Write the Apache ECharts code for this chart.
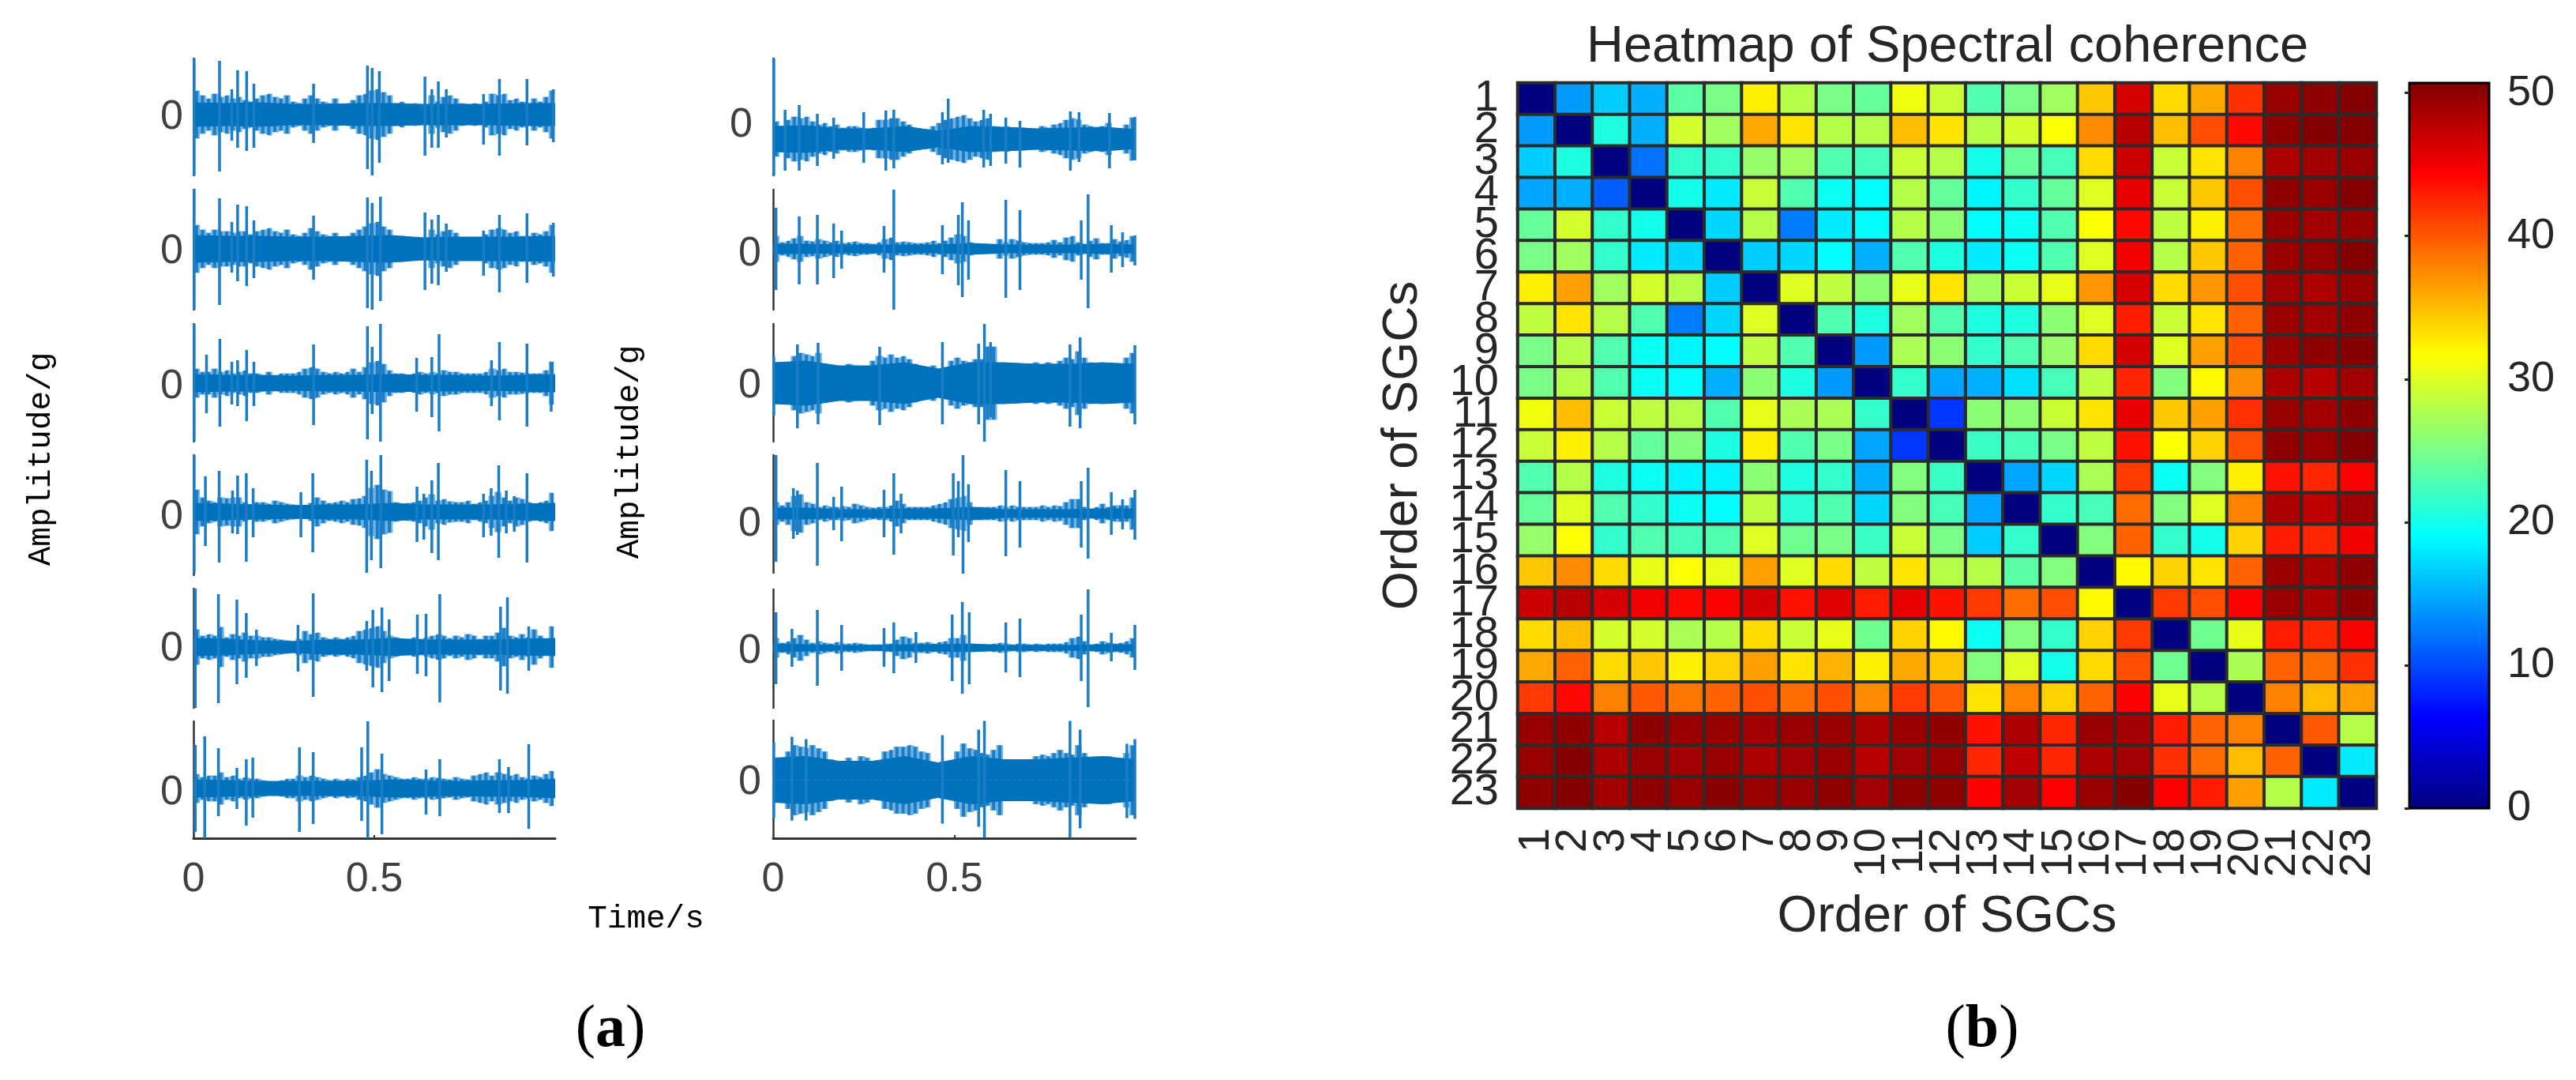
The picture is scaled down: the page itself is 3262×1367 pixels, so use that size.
<!DOCTYPE html>
<html>
<head>
<meta charset="utf-8">
<style>html,body{margin:0;padding:0;background:#fff}#c{width:3262px;height:1367px}</style>
<script src="https://cdn.jsdelivr.net/npm/echarts@6/dist/echarts.min.js"></script>
</head>
<body>
<div id="c"></div>
<script>
// ---------- heatmap data ----------
const sgcOrder = ['1','2','3','4','5','6','7','8','9','10','11','12','13','14','15','16','17','18','19','20','21','22','23'];
const coherence = [
[0,14,16.5,15,23.5,25,32.5,28,25,24,31,29,23,25,27,34.5,46.5,33.5,36,42,49.5,50,50.5],
[14,0,20.5,15,29.5,27,36,33,28,28,35,33,28,29.5,31.5,37.5,48,35,40.5,44,50,50.5,50.5],
[16.5,20.5,0,12,21.5,21.5,26.5,27,23,22.5,29,28,20,24,22.5,33.5,47,29,33,38,48.5,49,49.5],
[14.5,15,11,0,20,18,29,23,19.5,19,28,24,18.5,21.5,24,30,45.5,29,34.5,40.5,50,49.5,50.5],
[24,29.5,21.5,20,0,17,28,12.5,18,19,28,26,19,19.5,23,31.5,44,28.5,32.5,39,49.5,49,49.5],
[25,27,21.5,18,17,0,16.5,17,19,15,23,20.5,18,19.5,23,30,45,28,34.5,39.5,49.5,49.5,50.5],
[32.5,36.5,27,29.5,28,16.5,0,30,28.5,26,30.5,33,27,29,30.5,37,46.5,33.5,37,40.5,49,48.5,49.5],
[28.5,33,28,23,12.5,17,30,0,23,20.5,27,23,20.5,20.5,26,30,43,29,33,39.5,49.5,49,50],
[25,28,23,19.5,18.5,19,28.5,23,0,14,27.5,26,21.5,23,26.5,33.5,46.5,30,36.5,40.5,49.5,50,50.5],
[25,28,23,19.5,19,15,26,20.5,14,0,21.5,14.5,15,17.5,22.5,28.5,42.5,25.5,32,37.5,48.5,48,49],
[31,35,29,28.5,28,23,30.5,27.5,27.5,21.5,0,9,26,26,29,33,45.5,34.5,36.5,42,49.5,49,50],
[29,32.5,28,24,25.5,20.5,32.5,23,25,14.5,9,0,22,22.5,25,28.5,43.5,31.5,34,40.5,50,49.5,50.5],
[23,28,20.5,19.5,18.5,18.5,26,20.5,21.5,15,25.5,22,0,14.5,17,27.5,41.5,19.5,25.5,32.5,43.5,42.5,44.5],
[24,30,23,21.5,19.5,19,28.5,21,23,17,25.5,22.5,14.5,0,21.5,22.5,39,25.5,30,38,48.5,47.5,49],
[26.5,31.5,21.5,23,22.5,23,30,24.5,25,22,29,25,16.5,21.5,0,25.5,39.5,21.5,20,34,43,42.5,45],
[34.5,37.5,33.5,30.5,31.5,30.5,36.5,30,33.5,28.5,33,28,28,23.5,25.5,0,32,34,33,39.5,49.5,48.5,50],
[47,48,46.5,45,44,44.5,46.5,43.5,46,43,45.5,43.5,41.5,39,40.5,32,0,41.5,40.5,44.5,49.5,48.5,50],
[33.5,35,29.5,29.5,27.5,28,33.5,29,30.5,24.5,34,32,19.5,25.5,21.5,34,41.5,0,24.5,30.5,43,42.5,44.5],
[36,39.5,33.5,34.5,32.5,34,36.5,33,35.5,32.5,36,34.5,25.5,30,20,33.5,40.5,24.5,0,27.5,39.5,39,42],
[41.5,44,38,40,38.5,39.5,40.5,39,40.5,37.5,41.5,40,33,38,34,39.5,44.5,30.5,28,0,38,35,36.5],
[49.5,50,48,50,49.5,49.5,49,49.5,49.5,48.5,49.5,50,43.5,48.5,42.5,49.5,49,43,39.5,38,0,40,28],
[49.5,50.5,48.5,49.5,49,49.5,48.5,49,49.5,48,49,49.5,42.5,47.5,42.5,48.5,49,42,39,35,39.5,0,18],
[50,50.5,49,50,49.5,50.3,49.5,49.5,50,49,50,50,44.5,49,44.5,49.5,50.5,44.5,43,36.5,28,18,0]
];
const colorbarTicks = [0,10,20,30,40,50];
const jet = ['#000080','#0000ff','#0080ff','#00ffff','#80ff80','#ffff00','#ff8000','#ff0000','#800000'];

// ---------- waveform data (envelope heights, slow band, and [t, up, down] spikes) ----------
const envL1=[30,24,20,26,22,24,20,22,18,16,20,24,26,22,20,24,16,14,20,24,20,16,14,20,12,14,18,24,26,30,32,28,24,14,16,12,14,12,12,24,16,22,24,20,14,12,14,12,16,26,24,26,18,20,16,14,20,16,22,30];
const envL2=[30,24,20,24,22,22,20,22,22,18,22,24,26,22,20,24,18,16,20,26,22,18,16,20,14,16,20,24,28,32,34,28,24,14,16,14,14,14,14,24,18,22,24,20,14,14,14,14,18,24,26,24,20,22,16,16,20,18,22,30];
const envL3=[18,14,14,18,14,16,12,14,16,12,12,10,14,10,12,12,12,14,18,20,18,14,12,14,12,14,18,14,20,26,28,24,16,12,12,10,12,14,12,14,12,16,14,14,12,12,12,12,14,18,16,18,14,14,13,12,12,12,16,27];
const envL4=[28,18,14,12,18,17,18,18,12,8,12,12,10,14,12,10,9,8,8,11,18,14,11,12,14,12,16,17,20,30,34,28,26,12,10,11,12,14,18,22,14,16,13,12,12,14,10,12,14,20,25,18,14,18,16,12,10,12,14,24];
const envL5=[22,14,16,14,25,12,16,14,18,14,14,12,12,10,9,8,7,10,20,16,18,12,10,12,10,12,14,20,22,24,26,20,14,12,10,10,12,10,12,14,16,14,11,14,12,16,14,10,14,14,18,24,14,12,16,12,22,14,10,26];
const envL6=[18,14,16,16,20,14,16,12,14,12,12,10,8,8,10,12,12,16,14,16,14,12,10,12,10,12,11,14,16,20,24,18,16,14,12,12,14,12,12,14,13,12,11,14,12,11,16,18,20,16,20,18,16,18,14,12,16,14,18,22];
const envR1=[22,16,24,28,26,28,22,18,20,16,18,14,16,16,14,12,14,24,24,26,26,22,18,10,8,12,16,20,24,26,28,30,26,22,24,26,16,14,16,14,14,14,12,12,16,14,18,20,24,26,24,18,16,12,16,20,14,12,18,27];
const envR2=[16,8,10,13,16,10,9,12,10,8,10,7,8,9,7,7,6,8,12,14,8,9,8,7,7,8,10,7,10,14,18,16,8,6,6,6,6,12,8,12,10,8,7,7,7,8,11,8,14,16,8,6,10,13,7,7,12,9,11,16];
const envR3=[24,16,26,34,38,36,34,38,24,18,18,20,24,22,18,16,28,34,32,36,32,34,30,24,18,12,22,14,20,28,32,28,26,30,30,46,46,16,14,20,24,18,22,26,20,26,24,28,32,30,40,32,26,18,22,20,16,20,32,38];
const envR4=[14,10,14,22,24,14,12,8,10,8,8,9,8,12,10,8,7,8,8,10,16,12,8,8,8,8,10,12,14,18,20,22,14,8,8,8,8,10,8,10,8,8,8,8,10,8,10,9,14,18,18,8,6,8,12,8,10,10,10,20];
const envR5=[12,6,8,12,16,10,6,8,6,5,7,5,5,6,5,4,4,4,5,5,10,14,12,6,6,7,5,7,8,12,12,16,4,4,4,4,5,6,5,4,5,5,4,5,4,5,5,5,7,12,14,8,4,5,8,6,5,6,8,12];
const envR6=[28,20,36,44,42,40,44,40,36,26,22,24,28,24,30,28,18,20,36,38,42,42,44,42,36,34,22,14,22,24,36,46,40,38,34,32,38,44,20,22,24,20,22,30,32,30,34,38,34,32,44,34,28,20,26,30,22,20,34,44];

const coreL1=[15,14,15,13,13,14,14,13,13,13,14,14];
const coreL2=[17,16,16,15,15,16,17,14,15,15,15,16];
const coreL3=[11,10,10,9,10,10,11,10,10,9,10,11];
const coreL4=[11,10,9,8,9,9,11,9,9,9,10,11];
const coreL5=[11,10,8,7,9,9,11,9,9,9,10,11];
const coreL6=[11,10,9,9,9,9,11,10,9,10,10,12];
const coreR1=[16,17,13,13,16,10,16,15,13,14,15,12];
const coreR2=[6,6,5,5,5,5,7,5,5,5,6,5];
const coreR3=[26,28,22,22,26,18,26,26,24,24,26,24];
const coreR4=[7,7,5,5,6,6,8,5,5,5,6,6];
const coreR5=[5,4,3,3,4,4,5,3,3,3,4,4];
const coreR6=[28,30,24,24,30,22,30,26,26,28,30,26];

const spikesL1=[[0.002,71,77],[0.072,68,72],[0.106,32,33],[0.122,56,42],[0.147,55,46],[0.167,39,42],[0.332,39,36],[0.481,62,69],[0.494,59,77],[0.514,55,61],[0.64,48,52],[0.659,32,42],[0.677,42,42],[0.699,32,29],[0.802,26,38],[0.846,45,52],[0.922,45,39],[0.995,32,35]];
const spikesL2=[[0.002,76,77],[0.072,64,71],[0.106,34,30],[0.122,56,41],[0.147,54,47],[0.167,36,37],[0.332,42,39],[0.481,65,75],[0.494,58,77],[0.517,66,66],[0.64,46,52],[0.659,37,44],[0.677,43,46],[0.699,32,29],[0.802,23,34],[0.846,43,55],[0.922,45,43],[0.995,33,35]];
const spikesL3=[[0.002,75,74],[0.036,36,38],[0.073,56,55],[0.106,27,27],[0.122,29,29],[0.147,42,48],[0.167,27,29],[0.332,49,53],[0.481,72,71],[0.494,46,39],[0.517,75,74],[0.617,32,36],[0.659,33,43],[0.679,62,61],[0.824,29,29],[0.846,52,47],[0.922,50,55],[0.989,27,36]];
const spikesL4=[[0.002,72,77],[0.033,45,43],[0.071,52,64],[0.108,27,27],[0.122,46,28],[0.146,49,63],[0.165,30,32],[0.297,25,32],[0.33,49,51],[0.479,66,77],[0.492,52,61],[0.518,72,71],[0.618,32,38],[0.637,23,35],[0.659,40,52],[0.677,62,61],[0.802,23,32],[0.823,30,30],[0.844,59,58],[0.865,27,27],[0.887,20,25],[0.922,49,64]];
const spikesL5=[[0.005,74,77],[0.069,67,71],[0.12,60,47],[0.146,43,39],[0.174,22,24],[0.289,28,31],[0.331,68,63],[0.479,33,30],[0.496,47,51],[0.521,50,57],[0.541,35,43],[0.619,41,34],[0.643,42,37],[0.681,67,70],[0.849,51,55],[0.868,63,59],[0.927,26,30]];
const spikesL6=[[0.005,55,55],[0.031,66,63],[0.069,51,35],[0.12,26,26],[0.146,37,47],[0.164,39,37],[0.293,52,55],[0.331,46,45],[0.465,52,41],[0.482,85,63],[0.521,44,58],[0.643,24,33],[0.681,37,35],[0.846,37,31],[0.871,27,31],[0.927,56,51]];
const spikesR1=[[0.002,102,46],[0.033,37,40],[0.072,43,40],[0.122,32,34],[0.167,27,25],[0.25,34,30],[0.311,36,40],[0.333,37,37],[0.467,34,32],[0.483,51,30],[0.581,37,36],[0.6,32,34],[0.642,27,31],[0.681,23,36],[0.82,35,40],[0.844,34,29],[0.928,33,37],[0.998,28,27]];
const spikesR2=[[0.008,52,52],[0.072,41,45],[0.122,43,45],[0.167,32,37],[0.189,23,25],[0.306,29,30],[0.333,75,77],[0.467,30,32],[0.511,43,46],[0.522,59,61],[0.539,36,39],[0.642,62,62],[0.681,49,52],[0.85,36,39],[0.869,69,75],[0.933,30,30],[0.964,21,23],[0.998,17,21]];
const spikesR3=[[0.002,34,41],[0.067,49,57],[0.124,51,52],[0.294,46,53],[0.467,52,52],[0.567,50,52],[0.583,75,74],[0.6,52,43],[0.819,49,55],[0.847,58,57],[0.998,48,52]];
const spikesR4=[[0.008,74,61],[0.056,32,32],[0.067,29,27],[0.122,64,66],[0.167,21,21],[0.189,34,35],[0.306,30,30],[0.333,51,52],[0.353,25,25],[0.497,51,53],[0.511,41,30],[0.524,74,76],[0.539,37,36],[0.642,55,54],[0.681,41,43],[0.85,41,43],[0.869,58,57],[0.933,27,27],[0.964,18,20],[0.998,30,33]];
const spikesR5=[[0.008,45,46],[0.052,24,24],[0.122,48,48],[0.189,29,29],[0.306,25,24],[0.333,32,32],[0.394,20,19],[0.494,42,42],[0.522,58,58],[0.541,45,46],[0.642,32,31],[0.681,37,37],[0.85,42,42],[0.869,74,75],[0.933,19,17],[0.998,29,28]];
const spikesR6=[[0.002,48,48],[0.052,55,51],[0.091,52,51],[0.467,57,55],[0.567,64,59],[0.583,75,73],[0.819,75,73],[0.847,64,61],[0.976,46,48],[0.998,52,49]];

// ---------- layout ----------
const FONT='"Liberation Sans",Arial,sans-serif';
const MONO='"Liberation Mono",monospace';
const TXT='#262626', BLUE='#0072BD', FRINGE='#1a7dc5', LIGHT='#6db2e2', AXC='#333333';
const panels=[
 {e:envL1,c:coreL1,s:spikesL1,l:245,r:703,t:74, b:222,z:145,off:3.6,m:13},
 {e:envL2,c:coreL2,s:spikesL2,l:245,r:703,t:240,b:392,z:315,off:3.6,m:13},
 {e:envL3,c:coreL3,s:spikesL3,l:245,r:703,t:410,b:559,z:485,off:4.6,m:13},
 {e:envL4,c:coreL4,s:spikesL4,l:245,r:703,t:576,b:728,z:648,off:7,m:13},
 {e:envL5,c:coreL5,s:spikesL5,l:245,r:703,t:745,b:896,z:819,off:3,m:13},
 {e:envL6,c:coreL6,s:spikesL6,l:245,r:703,t:913,b:1061,z:998,off:6,m:13,x:1},
 {e:envR1,c:coreR1,s:spikesR1,l:979,r:1438,t:74, b:222,z:176,off:-17,m:26},
 {e:envR2,c:coreR2,s:spikesR2,l:979,r:1438,t:240,b:392,z:315,off:7,m:15},
 {e:envR3,c:coreR3,s:spikesR3,l:979,r:1438,t:410,b:559,z:485,off:4,m:15},
 {e:envR4,c:coreR4,s:spikesR4,l:979,r:1438,t:576,b:725,z:650,off:14,m:15},
 {e:envR5,c:coreR5,s:spikesR5,l:979,r:1438,t:746,b:896,z:820,off:5,m:15},
 {e:envR6,c:coreR6,s:spikesR6,l:979,r:1438,t:912,b:1061,z:987.5,off:3.5,m:15,x:1}
];

const grids=[{left:1922,top:105,width:1087,height:918}];
const xAxes=[{gridIndex:0,type:'category',data:sgcOrder,
  axisLine:{show:false},axisTick:{show:false},
  axisLabel:{interval:0,rotate:90,margin:25,fontFamily:FONT,fontSize:56,color:TXT},
  name:'Order of SGCs',nameLocation:'middle',nameGap:106,nameTextStyle:{fontFamily:FONT,fontSize:65,color:TXT}}];
const yAxes=[{gridIndex:0,type:'category',data:sgcOrder,inverse:true,
  axisLine:{show:false},axisTick:{show:false},
  axisLabel:{interval:0,margin:24,fontFamily:FONT,fontSize:56,color:TXT},
  name:'Order of SGCs',nameLocation:'middle',nameGap:114,nameRotate:90,nameTextStyle:{fontFamily:FONT,fontSize:63,color:TXT}}];
const hmData=[];
coherence.forEach((row,i)=>row.forEach((v,j)=>hmData.push([j,i,v])));
const series=[{type:'heatmap',xAxisIndex:0,yAxisIndex:0,data:hmData,progressive:0,animation:false,
  itemStyle:{borderColor:'#2b2b2b',borderWidth:4},emphasis:{disabled:true}}];

// colorbar axis (on top of the visualMap gradient)
grids.push({left:3051,top:105,width:101,height:918,show:true,borderColor:'#000',borderWidth:3,backgroundColor:'transparent',z:10});
xAxes.push({gridIndex:1,type:'value',show:false,min:0,max:1,z:10});
yAxes.push({gridIndex:1,type:'value',position:'right',min:0,max:50.7,z:10,
  axisLine:{show:false},splitLine:{show:false},
  axisTick:{show:true,inside:true,length:6,customValues:colorbarTicks,lineStyle:{color:'#262626',width:3}},
  axisLabel:{customValues:colorbarTicks,margin:23,fontFamily:FONT,fontSize:54,color:TXT}});

panels.forEach((p,k)=>{
  const gi=k+2;
  grids.push({left:p.l,width:p.r-p.l,top:p.t,height:p.b-p.t});
  xAxes.push({gridIndex:gi,type:'value',min:0,max:1,show:!!p.x,
    axisLine:{show:true,onZero:false,lineStyle:{color:AXC,width:3}},splitLine:{show:false},
    axisTick:{show:true,inside:true,length:4,customValues:[0.5],lineStyle:{color:AXC,width:2}},
    axisLabel:{customValues:[0,0.5],margin:27,fontFamily:FONT,fontSize:52,color:'#404040',formatter:v=>String(v)}});
  yAxes.push({gridIndex:gi,type:'value',min:-(p.b-p.z),max:p.z-p.t,
    axisLine:{show:true,onZero:false,lineStyle:{color:AXC,width:2.5}},splitLine:{show:false},axisTick:{show:false},
    axisLabel:{customValues:[-p.off],margin:p.m,fontFamily:FONT,fontSize:52,color:'#404040',formatter:()=>'0'}});
  const base={type:'line',xAxisIndex:gi,yAxisIndex:gi,symbol:'none',animation:false,silent:true};
  // pale envelope behind everything
  const light=(sign)=>Object.assign({},base,{step:'middle',z:1,
    data:p.e.map((v,i)=>[(i+0.5)/p.e.length,sign*v]),lineStyle:{color:LIGHT,width:1},areaStyle:{color:LIGHT,opacity:1}});
  series.push(light(1),light(-1));
  // comb of dark strokes reaching the envelope
  const comb=[];
  p.e.forEach((v,i)=>{const t=(i+0.5)/p.e.length;comb.push([t,v],[t,-v],[t,null]);});
  series.push(Object.assign({},base,{z:2,data:comb,connectNulls:false,lineStyle:{color:FRINGE,width:4}}));
  // solid band round zero
  const band=(sign)=>Object.assign({},base,{z:3,
    data:p.c.map((v,i)=>[i/(p.c.length-1),sign*v]),lineStyle:{color:BLUE,width:1},areaStyle:{color:BLUE,opacity:1}});
  series.push(band(1),band(-1));
  // isolated spikes
  const sd=[];
  p.s.forEach(q=>{sd.push([q[0],q[1]],[q[0],-q[2]],[q[0],null]);});
  series.push(Object.assign({},base,{z:4,data:sd,connectNulls:false,lineStyle:{color:FRINGE,width:3.5}}));
});

const serif='"Liberation Serif","Times New Roman",serif';
const chart=echarts.init(document.getElementById('c'),null,{renderer:'canvas',width:3262,height:1367,devicePixelRatio:1});
chart.setOption({
  animation:false,backgroundColor:'#fff',
  title:[
    {text:'Heatmap of Spectral coherence',left:2466,top:28,textAlign:'center',padding:0,textStyle:{fontFamily:FONT,fontSize:65,fontWeight:'normal',color:TXT}},
    {text:'({b|a})',left:773,top:1266,textAlign:'center',padding:0,textStyle:{fontFamily:serif,fontSize:76,fontWeight:'normal',color:'#000',rich:{b:{fontFamily:serif,fontSize:76,fontWeight:'bold',color:'#000'}}}},
    {text:'({b|b})',left:2510,top:1266,textAlign:'center',padding:0,textStyle:{fontFamily:serif,fontSize:76,fontWeight:'normal',color:'#000',rich:{b:{fontFamily:serif,fontSize:76,fontWeight:'bold',color:'#000'}}}}
  ],
  grid:grids,xAxis:xAxes,yAxis:yAxes,series,
  visualMap:{show:true,type:'continuous',seriesIndex:0,min:0,max:50.7,left:3051,top:105,itemWidth:101,itemHeight:918,padding:0,
    calculable:false,showLabel:false,text:null,inRange:{color:jet},z:4,textStyle:{fontSize:0}},
  graphic:[
    {type:'text',x:52,y:581,rotation:Math.PI/2,style:{text:'Amplitude/g',font:'41px '+MONO,fill:'#000',textAlign:'center',textVerticalAlign:'middle'}},
    {type:'text',x:797,y:572,rotation:Math.PI/2,style:{text:'Amplitude/g',font:'41px '+MONO,fill:'#000',textAlign:'center',textVerticalAlign:'middle'}},
    {type:'text',x:818,y:1163,style:{text:'Time/s',font:'41px '+MONO,fill:'#000',textAlign:'center',textVerticalAlign:'middle'}}
  ]
});
</script>
</body>
</html>
